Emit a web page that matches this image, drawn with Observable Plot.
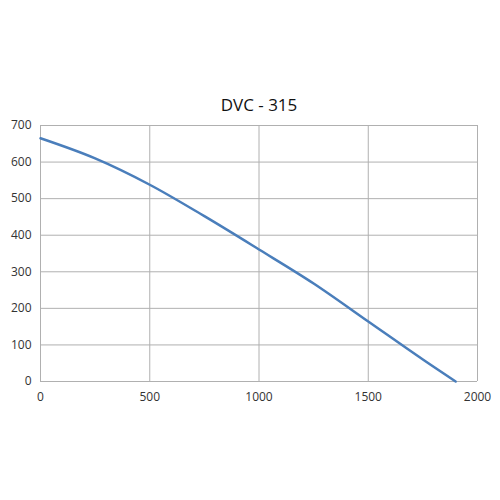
<!DOCTYPE html>
<html>
<head>
<meta charset="utf-8">
<script src="https://cdn.jsdelivr.net/npm/d3@7"></script>
<script src="https://cdn.jsdelivr.net/npm/@observablehq/plot@0.6"></script>
<style>
  html, body { margin: 0; padding: 0; background: #fff; }
</style>
</head>
<body>
<div id="chart"></div>
<script>
const title = "DVC - 315";
const airflow = [0, 250, 500, 750, 1000, 1250, 1500, 1750, 1900];
const pressure = [665, 610, 538, 452, 361, 268, 164, 60, 0];
const xTicks = [0, 500, 1000, 1500, 2000];
const yTicks = [0, 100, 200, 300, 400, 500, 600, 700];

const data = airflow.map((x, i) => ({x, y: pressure[i]}));

const chart = Plot.plot({
  width: 500,
  height: 500,
  marginLeft: 40,
  marginRight: 23,
  marginTop: 125,
  marginBottom: 119,
  style: {fontFamily: "Open Sans, DejaVu Sans, sans-serif", fontSize: "12px", color: "#333"},
  x: {domain: [0, 2000], ticks: xTicks, label: null},
  y: {domain: [0, 700], ticks: yTicks, label: null},
  marks: [
    Plot.gridX(xTicks, {stroke: "#b0b0b0", strokeOpacity: 1, strokeWidth: 1}),
    Plot.gridY(yTicks, {stroke: "#b0b0b0", strokeOpacity: 1, strokeWidth: 1}),
    Plot.axisX(xTicks, {tickSize: 0, tickPadding: 11, fontSize: 12, fill: "#333", tickFormat: d => String(d)}),
    Plot.axisY(yTicks, {tickSize: 0, tickPadding: 9, fontSize: 12, fill: "#333", tickFormat: d => String(d)}),
    Plot.line(data, {x: "x", y: "y", stroke: "#4a7ebb", strokeWidth: 2.5, curve: "catmull-rom"}),
    Plot.text([title], {frameAnchor: "top", dy: -27, text: d => d, fontSize: 17, fill: "#111"})
  ]
});
document.getElementById("chart").appendChild(chart);
</script>
</body>
</html>
